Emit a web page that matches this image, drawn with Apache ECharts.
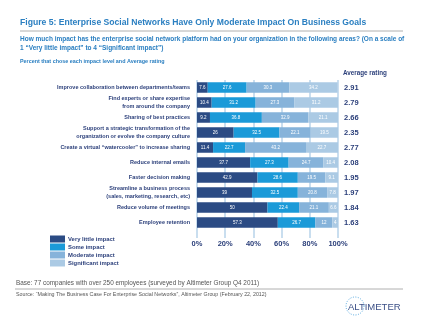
<!DOCTYPE html>
<html>
<head>
<meta charset="utf-8">
<title>Figure 5</title>
<script src="https://cdn.jsdelivr.net/npm/echarts@6/dist/echarts.min.js"></script>
<style>
	html, body { margin: 0; padding: 0; background: #fff; }
	#chart { width: 425px; height: 328px; }
</style>
</head>
<body>
<div id="chart"></div>
<script>
	// data
	var areas = [
		'Improve collaboration between departments/teams',
		'Find experts or share expertise\nfrom around the company',
		'Sharing of best practices',
		'Support a strategic transformation of the\norganization or evolve the company culture',
		'Create a virtual \u201cwatercooler\u201d to increase sharing',
		'Reduce internal emails',
		'Faster decision making',
		'Streamline a business process\n(sales, marketing, research, etc)',
		'Reduce volume of meetings',
		'Employee retention'
	];
	var veryLittle = [7.6, 10.4, 9.2, 26, 11.4, 37.7, 42.9, 39, 50, 57.3];
	var some = [27.6, 31.2, 36.8, 32.5, 22.7, 27.3, 28.6, 32.5, 22.4, 26.7];
	var moderate = [30.3, 27.3, 32.9, 22.1, 43.2, 24.7, 19.5, 20.8, 21.1, 12];
	var significant = [34.2, 31.2, 21.1, 19.5, 22.7, 10.4, 9.1, 7.8, 6.6, 4];
	var avgRating = ['2.91', '2.79', '2.66', '2.35', '2.77', '2.08', '1.95', '1.97', '1.84', '1.63'];
	var levels = ['Very little impact', 'Some impact', 'Moderate impact', 'Significant impact'];
	var xTicks = [0, 20, 40, 60, 80, 100];

	var navy = '#2b3f7a';
	var blue = '#2a7fc1';
	var colors = ['#2b4b84', '#1b9ad8', '#86b3da', '#abcae4'];
	var font = '"Liberation Sans", Arial, sans-serif';

	var myChart = echarts.init(document.getElementById('chart'));

	function barSeries(idx, data) {
		return {
			name: levels[idx],
			type: 'bar',
			stack: 'total',
			barWidth: 10.5,
			data: data,
			label: {
				show: true,
				position: 'inside',
				color: '#fff',
				fontSize: 4.5,
				fontFamily: font,
				formatter: function (p) { return p.value; }
			},
			itemStyle: { color: colors[idx], borderWidth: 0 },
			silent: true
		};
	}

	var legendItems = [];
	for (var i = 0; i < levels.length; i++) {
		legendItems.push({
			type: 'rect',
			shape: { x: 50, y: 235.5 + i * 8, width: 15, height: 7 },
			style: { fill: colors[i] }
		});
		legendItems.push({
			type: 'text',
			style: {
				x: 68, y: 239 + i * 8, text: levels[i], fill: navy,
				font: 'bold 5.9px ' + font, textVerticalAlign: 'middle'
			}
		});
	}

	var option = {
		animation: false,
		color: colors,
		textStyle: { fontFamily: font },
		grid: { left: 197, right: 87, top: 80, height: 150, containLabel: false },
		xAxis: {
			type: 'value',
			min: 0,
			max: 100,
			interval: 20,
			axisLine: { show: false },
			axisTick: { show: true, length: 8, lineStyle: { color: '#b8d3ea', width: 1.5 } },
			splitLine: { show: true, lineStyle: { color: '#b8d3ea', width: 1.5 } },
			axisLabel: {
				margin: 10,
				color: navy,
				fontWeight: 'bold',
				fontSize: 7.5,
				formatter: function (v) { return xTicks.indexOf(v) >= 0 ? v + '%' : ''; }
			}
		},
		yAxis: [
			{
				type: 'category',
				data: areas,
				inverse: true,
				axisLine: { show: false },
				axisTick: { show: false },
				axisLabel: {
					margin: 7,
					color: navy,
					fontWeight: 'bold',
					fontSize: 5.5,
					lineHeight: 8,
					align: 'right'
				}
			},
			{
				type: 'category',
				data: avgRating,
				inverse: true,
				position: 'right',
				axisLine: { show: false },
				axisTick: { show: false },
				axisLabel: {
					margin: 6,
					color: navy,
					fontWeight: 'bold',
					fontSize: 7.5,
					align: 'left'
				}
			}
		],
		series: [
			barSeries(0, veryLittle),
			barSeries(1, some),
			barSeries(2, moderate),
			barSeries(3, significant)
		],
		graphic: [
			{
				type: 'text',
				style: {
					x: 20, y: 23, text: 'Figure 5: Enterprise Social Networks Have Only Moderate Impact On Business Goals',
					fill: blue, font: 'bold 8.6px ' + font, textVerticalAlign: 'middle'
				}
			},
			{
				type: 'line',
				shape: { x1: 20, y1: 31, x2: 403, y2: 31 },
				style: { stroke: '#b0b0b0', lineWidth: 1 }
			},
			{
				type: 'text',
				style: {
					x: 20, y: 35,
					text: 'How much impact has the enterprise social network platform had on your organization in the following areas? (On a scale of\n1 \u201cVery little impact\u201d to 4 \u201cSignificant impact\u201d)',
					fill: blue, font: 'bold 6.5px ' + font, lineHeight: 9
				}
			},
			{
				type: 'text',
				style: {
					x: 20, y: 62, text: 'Percent that chose each impact level and Average rating',
					fill: blue, font: 'bold 5.4px ' + font, textVerticalAlign: 'middle'
				}
			},
			{
				type: 'text',
				style: {
					x: 343, y: 73, text: 'Average rating',
					fill: navy, font: 'bold 6.3px ' + font, textVerticalAlign: 'middle'
				}
			},
			{
				type: 'text',
				style: {
					x: 16, y: 283, text: 'Base: 77 companies with over 250 employees (surveyed by Altimeter Group Q4 2011)',
					fill: '#555', font: '6.4px ' + font, textVerticalAlign: 'middle'
				}
			},
			{
				type: 'line',
				shape: { x1: 15, y1: 289, x2: 403, y2: 289 },
				style: { stroke: '#b0b0b0', lineWidth: 1 }
			},
			{
				type: 'text',
				style: {
					x: 16, y: 295, text: 'Source: \u201cMaking The Business Case For Enterprise Social Networks\u201d, Altimeter Group (February 22, 2012)',
					fill: '#555', font: '5.3px ' + font, textVerticalAlign: 'middle'
				}
			},
			{
				type: 'circle',
				shape: { cx: 355, cy: 306, r: 9 },
				style: { fill: 'none', stroke: '#4fa3dc', lineWidth: 1, lineDash: [1, 1.5] }
			},
			{
				type: 'text',
				style: {
					x: 348, y: 307, text: 'ALTIMETER',
					fill: '#3b4f86', font: '9.5px ' + font, textVerticalAlign: 'middle'
				}
			}
		].concat(legendItems)
	};
	myChart.setOption(option);
</script>
</body>
</html>
